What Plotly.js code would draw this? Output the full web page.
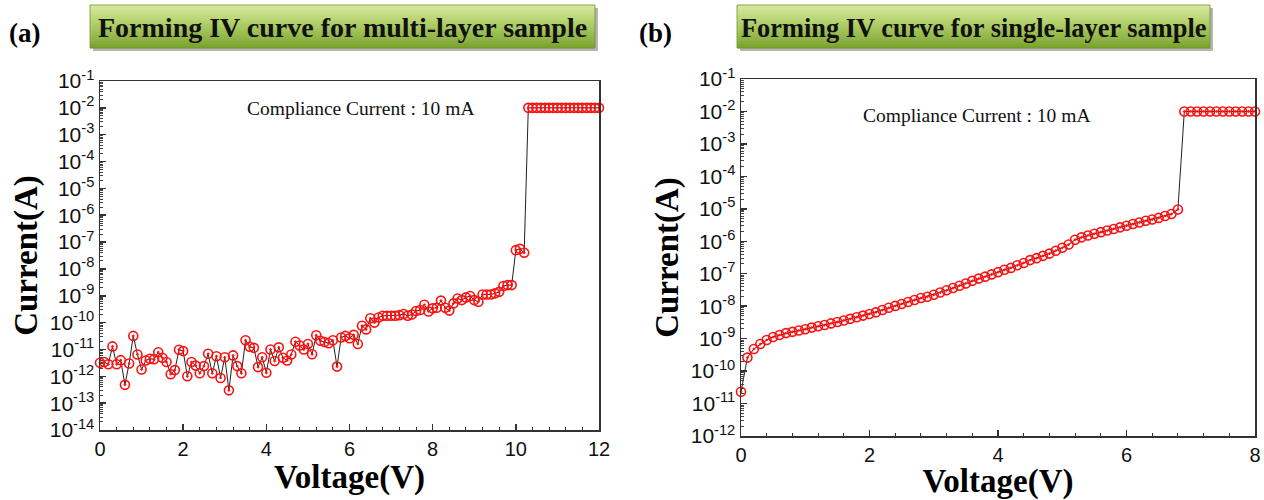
<!DOCTYPE html>
<html><head><meta charset="utf-8">
<script src="https://cdn.plot.ly/plotly-3.0.1.min.js"></script>
<style>html,body{margin:0;padding:0;background:#fff;} #chart{width:1264px;height:500px;}</style>
</head><body><div id="chart"></div>
<script>
// ---------- data ----------
const voltageA = [
 0.0,0.1,0.2,0.3,0.4,0.5,0.6,0.7,0.8,0.9,
 1.0,1.1,1.2,1.3,1.4,1.5,1.6,1.7,1.8,1.9,
 2.0,2.1,2.2,2.3,2.4,2.5,2.6,2.7,2.8,2.9,
 3.0,3.1,3.2,3.3,3.4,3.5,3.6,3.7,3.8,3.9,
 4.0,4.1,4.2,4.3,4.4,4.5,4.6,4.7,4.8,4.9,
 5.0,5.1,5.2,5.3,5.4,5.5,5.6,5.7,5.8,5.9,
 6.0,6.1,6.2,6.3,6.4,6.5,6.6,6.7,6.8,6.9,
 7.0,7.1,7.2,7.3,7.4,7.5,7.6,7.7,7.8,7.9,
 8.0,8.1,8.2,8.3,8.4,8.5,8.6,8.7,8.8,8.9,
 9.0,9.1,9.2,9.3,9.4,9.5,9.6,9.7,9.8,9.9,
 10.0,10.1,10.2,10.3,10.4,10.5,10.6,10.7,10.8,10.9,
 11.0,11.1,11.2,11.3,11.4,11.5,11.6,11.7,11.8,11.9,
 12.0];
const currentA = [
 3.2e-12,3.4e-12,2.8e-12,1.3e-11,2.8e-12,4.0e-12,4.8e-13,3.0e-12,3.2e-11,6.5e-12,
 1.8e-12,3.9e-12,4.5e-12,4.3e-12,7.9e-12,4.9e-12,3.4e-12,1.2e-12,1.7e-12,9.8e-12,
 8.7e-12,1.0e-12,3.4e-12,2.5e-12,1.3e-12,2.4e-12,6.9e-12,1.3e-12,5.6e-12,8.7e-13,
 5.1e-12,3.0e-13,6.0e-12,2.4e-12,1.3e-12,2.2e-11,1.26e-11,1.15e-11,2.2e-12,5.1e-12,
 1.35e-12,1.0e-11,3.7e-12,1.2e-11,4.9e-12,3.9e-12,6.5e-12,1.95e-11,1.4e-11,1.0e-11,
 1.6e-11,6.6e-12,3.4e-11,2.1e-11,1.9e-11,1.7e-11,2.2e-11,2.3e-12,2.8e-11,3.2e-11,
 2.6e-11,3.5e-11,1.6e-11,7.6e-11,5.6e-11,1.45e-10,1.0e-10,1.55e-10,1.8e-10,1.8e-10,
 1.8e-10,1.8e-10,1.9e-10,2.1e-10,1.8e-10,2.0e-10,2.7e-10,2.95e-10,4.6e-10,2.6e-10,
 3.4e-10,3.6e-10,6.6e-10,3.6e-10,2.8e-10,5.2e-10,7.9e-10,6.9e-10,8.7e-10,9.8e-10,
 6.9e-10,6.0e-10,1.12e-9,1.12e-9,1.12e-9,1.23e-9,1.4e-9,2.3e-9,2.5e-9,2.5e-9,
 5.0e-8,5.6e-8,4.0e-8,1e-2,1e-2,1e-2,1e-2,1e-2,1e-2,1e-2,
 1e-2,1e-2,1e-2,1e-2,1e-2,1e-2,1e-2,1e-2,1e-2,1e-2,
 1e-2];
const voltageB = [
 0.0,0.1,0.2,0.3,0.4,0.5,0.6,0.7,0.8,0.9,
 1.0,1.1,1.2,1.3,1.4,1.5,1.6,1.7,1.8,1.9,
 2.0,2.1,2.2,2.3,2.4,2.5,2.6,2.7,2.8,2.9,
 3.0,3.1,3.2,3.3,3.4,3.5,3.6,3.7,3.8,3.9,
 4.0,4.1,4.2,4.3,4.4,4.5,4.6,4.7,4.8,4.9,
 5.0,5.1,5.2,5.3,5.4,5.5,5.6,5.7,5.8,5.9,
 6.0,6.1,6.2,6.3,6.4,6.5,6.6,6.7,6.8,6.9,
 7.0,7.1,7.2,7.3,7.4,7.5,7.6,7.7,7.8,7.9,
 8.0];
const currentB = [
 2.3e-11,2.6e-10,4.8e-10,6.8e-10,9.1e-10,1.12e-9,1.29e-9,1.48e-9,1.62e-9,1.78e-9,
 1.95e-9,2.19e-9,2.4e-9,2.63e-9,2.95e-9,3.24e-9,3.63e-9,4.07e-9,4.57e-9,5.13e-9,
 5.75e-9,6.46e-9,7.59e-9,8.91e-9,1.02e-8,1.17e-8,1.35e-8,1.55e-8,1.78e-8,1.95e-8,
 2.24e-8,2.63e-8,3.09e-8,3.63e-8,4.27e-8,5.01e-8,6.03e-8,7.08e-8,8.13e-8,9.55e-8,
 1.12e-7,1.32e-7,1.51e-7,1.82e-7,2.14e-7,2.63e-7,3.02e-7,3.55e-7,4.17e-7,5.13e-7,
 6.31e-7,7.94e-7,1.12e-6,1.32e-6,1.51e-6,1.70e-6,1.91e-6,2.14e-6,2.40e-6,2.69e-6,
 3.02e-6,3.39e-6,3.80e-6,4.27e-6,4.68e-6,5.25e-6,6.03e-6,6.92e-6,9.55e-6,1e-2,
 1e-2,1e-2,1e-2,1e-2,1e-2,1e-2,1e-2,1e-2,1e-2,1e-2,
 1e-2];

const xTicksA = [0,2,4,6,8,10,12];
const xTicksB = [0,2,4,6,8];
const yTicksA = [1e-14,1e-13,1e-12,1e-11,1e-10,1e-9,1e-8,1e-7,1e-6,1e-5,1e-4,1e-3,1e-2,1e-1];
const yTickLabelsA = ['10<sup>-14</sup>','10<sup>-13</sup>','10<sup>-12</sup>','10<sup>-11</sup>','10<sup>-10</sup>','10<sup>-9</sup>','10<sup>-8</sup>','10<sup>-7</sup>','10<sup>-6</sup>','10<sup>-5</sup>','10<sup>-4</sup>','10<sup>-3</sup>','10<sup>-2</sup>','10<sup>-1</sup>'];
const yTicksB = [1e-12,1e-11,1e-10,1e-9,1e-8,1e-7,1e-6,1e-5,1e-4,1e-3,1e-2,1e-1];
const yTickLabelsB = ['10<sup>-12</sup>','10<sup>-11</sup>','10<sup>-10</sup>','10<sup>-9</sup>','10<sup>-8</sup>','10<sup>-7</sup>','10<sup>-6</sup>','10<sup>-5</sup>','10<sup>-4</sup>','10<sup>-3</sup>','10<sup>-2</sup>','10<sup>-1</sup>'];

const panelLabels = ['(a)','(b)'];
const panelTitles = ['Forming IV curve for multi-layer sample','Forming IV curve for single-layer sample'];
const noteText = 'Compliance Current : 10 mA';
const xTitle = 'Voltage(V)';
const yTitle = 'Current(A)';

// ---------- helpers ----------
const W = 1264, H = 500;
const px = x => x / W;
const py = y => 1 - y / H;
const SERIF = '"Times New Roman", "Liberation Serif", serif';
const SANS = 'Arial, "Liberation Sans", sans-serif';

function minorLogTicks(lo, hi) {
  const v = [];
  for (let e = lo; e < hi; e++) for (let m = 2; m <= 9; m++) v.push(m * Math.pow(10, e));
  return v;
}

function trace(x, y, xa, ya) {
  return {
    x: x, y: y, xaxis: xa, yaxis: ya, type: 'scatter', mode: 'lines+markers',
    line: {color: '#222', width: 1},
    marker: {symbol: 'circle-open-dot', size: 9, color: '#ff1010', line: {color: '#ff1010', width: 1.6}},
    cliponaxis: false, hoverinfo: 'x+y'
  };
}

function xAxis(dom, range, ticks, anchor) {
  return {
    domain: dom, range: range, anchor: anchor, tickmode: 'array', tickvals: ticks,
    ticks: 'inside', ticklen: 6, tickwidth: 1.5, tickcolor: '#333',
    showline: true, linecolor: '#333', linewidth: 1.5, mirror: true,
    showgrid: false, zeroline: false,
    tickfont: {family: SANS, size: 20, color: '#111'},
    minor: {ticks: 'inside', ticklen: 3, tickwidth: 1, tickcolor: '#333', dtick: 0.4, tick0: 0, showgrid: false},
    title: {text: xTitle, font: {family: SERIF, size: 33, color: '#000', weight: 'bold'}, standoff: 0}
  };
}
function yAxis(dom, range, ticks, labels, anchor, lo, hi) {
  return {
    domain: dom, type: 'log', range: range, anchor: anchor, tickmode: 'array',
    tickvals: ticks, ticktext: labels,
    ticks: 'inside', ticklen: 6, tickwidth: 1.5, tickcolor: '#333',
    showline: true, linecolor: '#333', linewidth: 1.5, mirror: true,
    showgrid: false, zeroline: false,
    tickfont: {family: SANS, size: 21, color: '#111'},
    minor: {ticks: 'inside', ticklen: 3, tickwidth: 1, tickcolor: '#444', tickmode: 'array', tickvals: minorLogTicks(lo, hi), showgrid: false},
    title: {text: yTitle, font: {family: SERIF, size: 33, color: '#000', weight: 'bold'}, standoff: 2}
  };
}

// header boxes with gradient stripes
const shapes = [];
const annotations = [];
function headerBox(x0, x1, y0, y1, label, title, lx, fs) {
  shapes.push({type: 'rect', xref: 'paper', yref: 'paper', x0: px(x0 + 3), x1: px(x1 + 3), y0: py(y1 + 3), y1: py(y0 + 3),
    line: {width: 0}, fillcolor: 'rgba(120,120,120,0.55)', layer: 'above'});
  const top = [214, 232, 160], mid = [170, 203, 94], bot = [122, 163, 44];
  const n = 22;
  for (let i = 0; i < n; i++) {
    const t = i / (n - 1);
    let c;
    if (t < 0.5) { const s = t / 0.5; c = top.map((v, k) => Math.round(v + (mid[k] - v) * s)); }
    else { const s = (t - 0.5) / 0.5; c = mid.map((v, k) => Math.round(v + (bot[k] - v) * s)); }
    const ya = y0 + (y1 - y0) * i / n, yb = y0 + (y1 - y0) * (i + 1) / n;
    shapes.push({type: 'rect', xref: 'paper', yref: 'paper', x0: px(x0), x1: px(x1), y0: py(yb + 0.3), y1: py(ya),
      line: {width: 0}, fillcolor: `rgb(${c[0]},${c[1]},${c[2]})`, layer: 'above'});
  }
  shapes.push({type: 'rect', xref: 'paper', yref: 'paper', x0: px(x0), x1: px(x1), y0: py(y1), y1: py(y0),
    line: {width: 1, color: 'rgba(110,150,40,0.8)'}, fillcolor: 'rgba(0,0,0,0)', layer: 'above'});
  annotations.push({xref: 'paper', yref: 'paper', x: px((x0 + x1) / 2), y: py((y0 + y1) / 2 + 1), text: title, showarrow: false,
    xanchor: 'center', yanchor: 'middle', font: {family: SERIF, size: fs, color: '#111', weight: 'bold'}});
  annotations.push({xref: 'paper', yref: 'paper', x: px(lx), y: py(33), text: label, showarrow: false,
    xanchor: 'center', yanchor: 'middle', font: {family: SERIF, size: 27, color: '#000', weight: 'bold'}});
}
headerBox(90, 595, 5, 48, panelLabels[0], panelTitles[0], 24, 28);
headerBox(737, 1210, 5, 48, panelLabels[1], panelTitles[1], 655, 26.4);

annotations.push({xref: 'paper', yref: 'paper', x: px(360.5), y: py(109), text: noteText, showarrow: false,
  xanchor: 'center', yanchor: 'middle', font: {family: SERIF, size: 19.5, color: '#111'}});
annotations.push({xref: 'paper', yref: 'paper', x: px(976.5), y: py(116), text: noteText, showarrow: false,
  xanchor: 'center', yanchor: 'middle', font: {family: SERIF, size: 19.5, color: '#111'}});

const data = [trace(voltageA, currentA, 'x', 'y'), trace(voltageB, currentB, 'x2', 'y2')];

const layout = {
  width: W, height: H, margin: {l: 0, r: 0, t: 0, b: 0},
  paper_bgcolor: '#fff', plot_bgcolor: '#fff', showlegend: false,
  xaxis: xAxis([px(100), px(599)], [0, 12], xTicksA, 'y'),
  yaxis: yAxis([py(430), py(81)], [-14, -1], yTicksA, yTickLabelsA, 'x', -14, -1),
  xaxis2: xAxis([px(741), px(1255)], [0, 8], xTicksB, 'y2'),
  yaxis2: yAxis([py(436), py(79)], [-12, -1], yTicksB, yTickLabelsB, 'x2', -12, -1),
  shapes: shapes, annotations: annotations
};

Plotly.newPlot('chart', data, layout, {displayModeBar: false, staticPlot: true});
</script>
</body></html>
